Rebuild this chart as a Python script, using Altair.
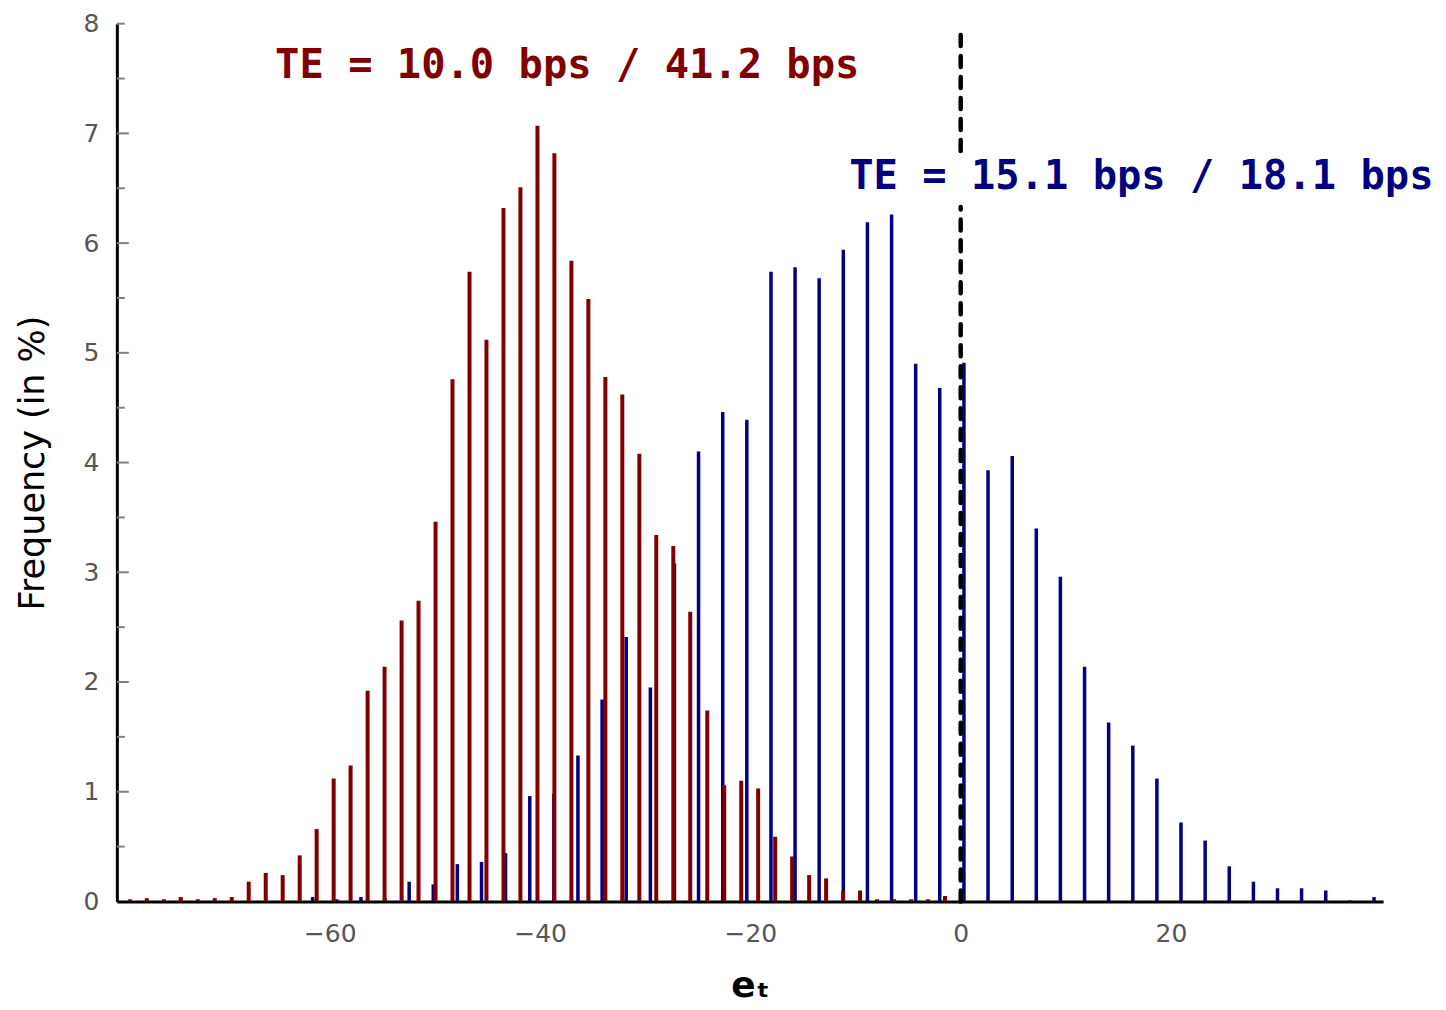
import altair as alt
import pandas as pd

# ---------------- data ----------------
red_x = [-79.01, -77.40, -75.78, -74.17, -72.55, -70.94, -69.32, -67.71, -66.09, -64.48,
         -62.86, -61.25, -59.63, -58.02, -56.40, -54.79, -53.17, -51.56, -49.94, -48.33,
         -46.71, -45.10, -43.48, -41.87, -40.25, -38.64, -37.02, -35.41, -33.79, -32.18,
         -30.56, -28.95, -27.33, -25.72, -24.10, -22.49, -20.87, -19.26, -17.64, -16.03,
         -14.41, -12.80, -11.18, -9.57, -7.95, -6.34, -4.72, -3.11, -1.49]
red_freq = [0.02, 0.03, 0.02, 0.04, 0.02, 0.03, 0.04, 0.18, 0.26, 0.24,
            0.42, 0.66, 1.12, 1.24, 1.92, 2.14, 2.56, 2.74, 3.46, 4.76,
            5.74, 5.12, 6.32, 6.51, 7.07, 6.82, 5.84, 5.49, 4.78, 4.62,
            4.08, 3.34, 3.24, 2.64, 1.74, 1.06, 1.10, 1.03, 0.59, 0.41,
            0.24, 0.21, 0.10, 0.10, 0.02, 0.02, 0.02, 0.02, 0.05]

blue_x = [-61.63, -59.34, -57.04, -54.75, -52.45, -50.16, -47.87, -45.57, -43.28, -40.98,
          -38.69, -36.40, -34.10, -31.81, -29.51, -27.22, -24.93, -22.63, -20.34, -18.04,
          -15.75, -13.46, -11.16, -8.87, -6.57, -4.28, -1.99, 0.31, 2.60, 4.90,
          7.19, 9.48, 11.78, 14.07, 16.37, 18.66, 20.95, 23.25, 25.54, 27.84,
          30.13, 32.42, 34.72, 37.01, 39.31]
blue_freq = [0.04, 0.02, 0.04, 0.03, 0.18, 0.155, 0.34, 0.36, 0.44, 0.96,
             0.98, 1.33, 1.84, 2.41, 1.95, 3.08, 4.10, 4.46, 4.39, 5.74,
             5.78, 5.68, 5.94, 6.19, 6.26, 4.90, 4.68, 4.91, 3.93, 4.06,
             3.40, 2.96, 2.14, 1.63, 1.42, 1.12, 0.72, 0.555, 0.32, 0.18,
             0.12, 0.12, 0.10, 0.01, 0.04]

x_ticks = [-60, -40, -20, 0, 20]
y_ticks = [0, 1, 2, 3, 4, 5, 6, 7, 8]
y_major_marks = [1, 2, 3, 4, 5, 6, 7]
y_minor_marks = [0.5, 1.5, 2.5, 3.5, 4.5, 5.5, 6.5, 7.5, 8]

zero_seg_lo = [0.0, 6.84]
zero_seg_hi = [6.33, 7.93]

ann_text = ["TE = 10.0 bps / 41.2 bps", "TE = 15.1 bps / 18.1 bps"]
ann_x = [-65.2, -10.6]
ann_y = [7.61, 6.60]
ann_color = ["#800000", "#000080"]

RED = "#800000"
BLUE = "#000080"

# ---------------- tables ----------------
red_df = pd.DataFrame({"x": red_x, "f": red_freq, "z": 0.0})
blue_df = pd.DataFrame({"x": blue_x, "f": blue_freq, "z": 0.0})
zero_df = pd.DataFrame({"x": 0.0, "lo": zero_seg_lo, "hi": zero_seg_hi})
ann_df = pd.DataFrame({"t": ann_text, "x": ann_x, "y": ann_y, "c": ann_color})
major_df = pd.DataFrame({"y": y_major_marks})
minor_df = pd.DataFrame({"y": y_minor_marks})

W, H = 1268, 879
xscale = alt.Scale(domain=[-80.25, 40.17], nice=False, zero=False)
yscale = alt.Scale(domain=[0, 8], nice=False, zero=True)

LABEL_FONT = "DejaVu Sans"

x_axis = alt.Axis(values=x_ticks, ticks=False, grid=False, domainColor="black",
                  domainWidth=3, labelFontSize=25, labelColor="#555555", format="d",
                  labelFont=LABEL_FONT, labelPadding=20, title="eₜ",
                  titleFont="DejaVu Sans", titleFontSize=36, titleFontWeight="bold",
                  titleColor="black", titleX=W / 2, titleY=84, titleBaseline="middle",
                  titleAlign="center")
y_axis = alt.Axis(values=y_ticks, ticks=False, grid=False, domainColor="black",
                  domainWidth=3, labelFontSize=25, labelColor="#555555", format="d",
                  labelFont=LABEL_FONT, labelPadding=18, title="Frequency (in %)",
                  titleFont="DejaVu Sans", titleFontSize=35, titleFontWeight="normal",
                  titleColor="black", titleX=-84, titleY=H / 2, titleAngle=270,
                  titleBaseline="middle", titleAlign="center")

base_red = alt.Chart(red_df).mark_rule(color=RED, strokeWidth=4).encode(
    x=alt.X("x:Q", scale=xscale, axis=x_axis),
    y=alt.Y("f:Q", scale=yscale, axis=y_axis),
    y2="z:Q",
)
base_blue = alt.Chart(blue_df).mark_rule(color=BLUE, strokeWidth=3.5).encode(
    x=alt.X("x:Q", scale=xscale),
    y=alt.Y("f:Q", scale=yscale),
    y2="z:Q",
)
zero_line = alt.Chart(zero_df).mark_rule(color="black", strokeWidth=4.5,
                                         strokeDash=[11, 10], strokeCap="round").encode(
    x=alt.X("x:Q", scale=xscale),
    y=alt.Y("lo:Q", scale=yscale),
    y2="hi:Q",
)
major_ticks = alt.Chart(major_df).mark_rule(color="#808080", strokeWidth=2).encode(
    x=alt.value(0), x2=alt.value(12), y=alt.Y("y:Q", scale=yscale))
minor_ticks = alt.Chart(minor_df).mark_rule(color="#808080", strokeWidth=2).encode(
    x=alt.value(0), x2=alt.value(8), y=alt.Y("y:Q", scale=yscale))
ann = alt.Chart(ann_df).mark_text(align="left", baseline="middle", font="DejaVu Sans Mono",
                                  fontSize=40.5, fontWeight="bold").encode(
    x=alt.X("x:Q", scale=xscale),
    y=alt.Y("y:Q", scale=yscale),
    text="t:N",
    color=alt.Color("c:N", scale=None),
)

chart = alt.layer(major_ticks, minor_ticks, base_blue, base_red, zero_line, ann).properties(
    width=W, height=H,
    padding={"left": 109, "top": 15, "right": 55, "bottom": 102},
    autosize=alt.AutoSizeParams(type="none"),
    background="white",
).configure_view(stroke=None)

chart.save("out.html", embed_options={"renderer": "svg", "actions": False})
